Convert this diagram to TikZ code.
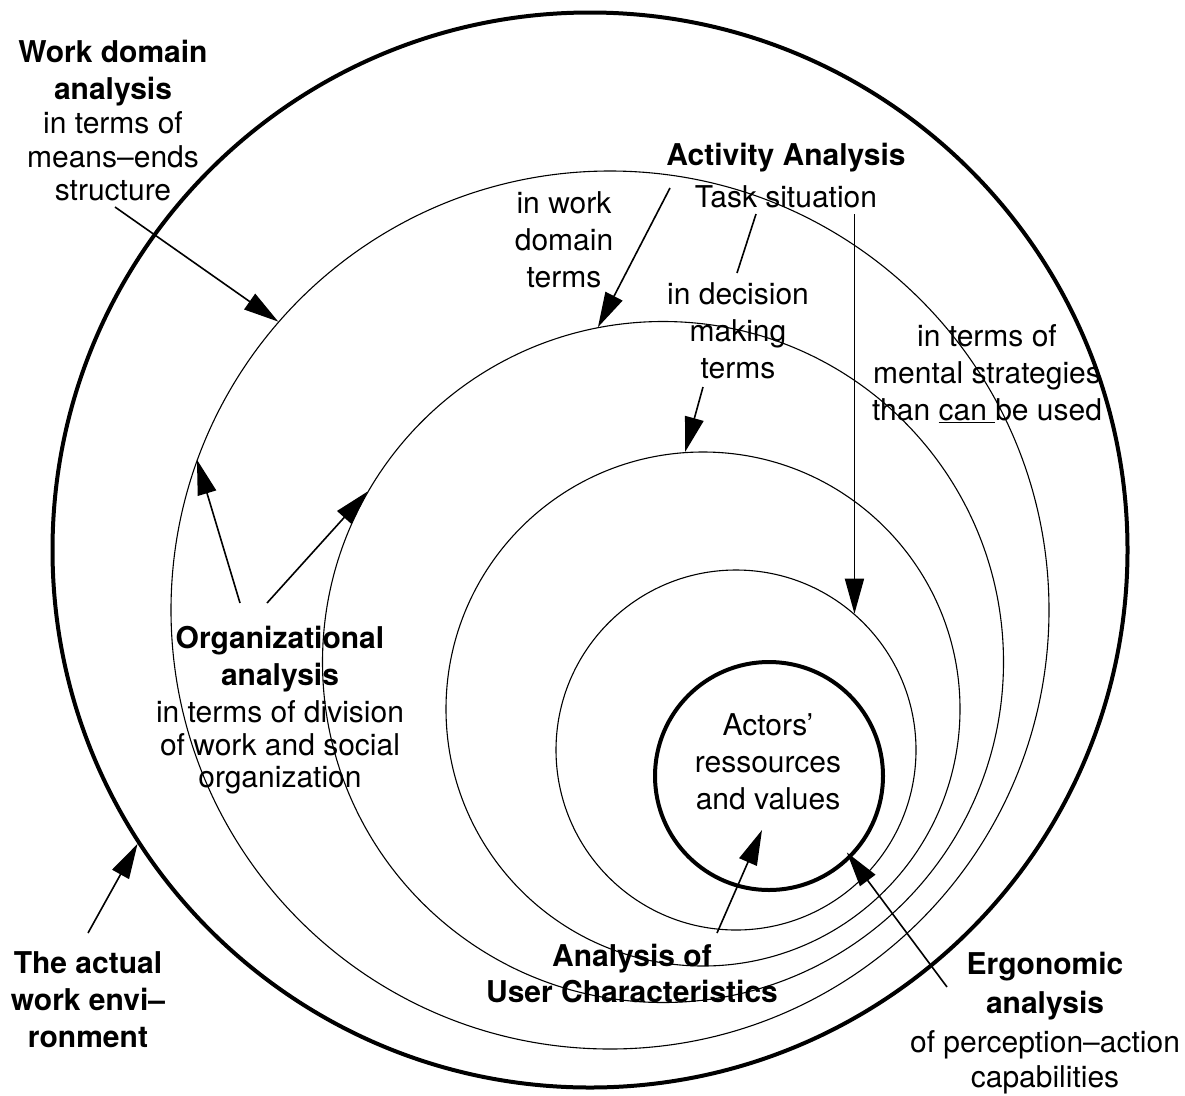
\documentclass[tikz,border=0pt]{standalone}
\usepackage{fontspec}
\setmainfont{TeX Gyre Heros}
\usetikzlibrary{arrows.meta}
\begin{document}
\begin{tikzpicture}[x=1pt,y=-1pt,
  ring/.style={circle,draw,inner sep=0pt,line width=1.1pt,minimum size=#1},
  thickring/.style={ring=#1,line width=4pt},
  lbl/.style={align=center,anchor=base,inner sep=0pt,font=\fontsize{30}{37}\selectfont},
  arr/.style={line width=1.6pt,-{Triangle[length=35pt,width=19pt]}},
  leader/.style={line width=1.6pt}]
\path[fill=white,use as bounding box] (0,0) rectangle (1185,1095);
% circles
\node[thickring=1075pt] (c1) at (590,550) {};
\node[ring=878pt] (c2) at (610,610) {};
\node[ring=681pt] (c3) at (663,662) {};
\node[ring=514pt] (c4) at (703,709) {};
\node[ring=360pt] (c5) at (736,750) {};
\node[thickring=228pt] (c6) at (769,776) {};
% texts (anchor = baseline of the last line)
\node[lbl] (wda) at (113,200) {\textbf{Work domain}\\\textbf{analysis}\\[-3pt]in terms of\\[-3pt]means–ends\\[-4pt]structure};
\node[lbl] (act) at (786,207) {\textbf{Activity Analysis}\\[5pt]Task situation};
\node[lbl] (wdt) at (564,287) {in work\\domain\\terms};
\node[lbl] (dmt) at (738,378) {in decision\\making\\terms};
\node[lbl] (mst) at (987,420) {in terms of\\mental strategies\\than \underline{can\ }be used};
\node[lbl] (org) at (280,787) {\textbf{Organizational}\\\textbf{analysis}\\in terms of division\\[-4pt]of work and social\\[-5pt]organization};
\node[lbl] (actors) at (768,809) {Actors’\\ressources\\and values};
\node[lbl] (env) at (88,1047) {\textbf{The actual}\\\textbf{work envi–}\\\textbf{ronment}};
\node[lbl] (usr) at (632,1002) {\textbf{Analysis of}\\[-1pt]\textbf{User Characteristics}};
\node[lbl] (erg) at (1045,1087) {\textbf{Ergonomic}\\[2pt]\textbf{analysis}\\[2pt]of perception–action\\[-2pt]capabilities};
% free ends
\coordinate (wdaS) at (115,207);
\coordinate (actS) at (670,188);
\coordinate (tsA) at (756,214);
\coordinate (tsB) at (737,273);
\coordinate (dmtS) at (703,387);
\coordinate (vtop) at (855,214);
\coordinate (orgL) at (240,603);
\coordinate (orgR) at (267,603);
\coordinate (envS) at (88,933);
\coordinate (usrS) at (717,933);
\coordinate (usrT) at (762,830);
\coordinate (ergS) at (947,987);
% connectors
\draw[arr] (wdaS) -- (c2.139);
\draw[arr] (actS) -- (c3.101);
\draw[leader] (tsA) -- (tsB);
\draw[arr] (dmtS) -- (c4.94);
\draw[arr] (c5.49 |- vtop) -- (c5.49);
\draw[arr] (orgL) -- (c2.160);
\draw[arr] (orgR) -- (c3.150);
\draw[arr] (envS) -- (c1.213);
\draw[arr] (usrS) -- (usrT);
\draw[arr,shorten >=-7pt] (ergS) -- (c6.-45);
\end{tikzpicture}
\end{document}
